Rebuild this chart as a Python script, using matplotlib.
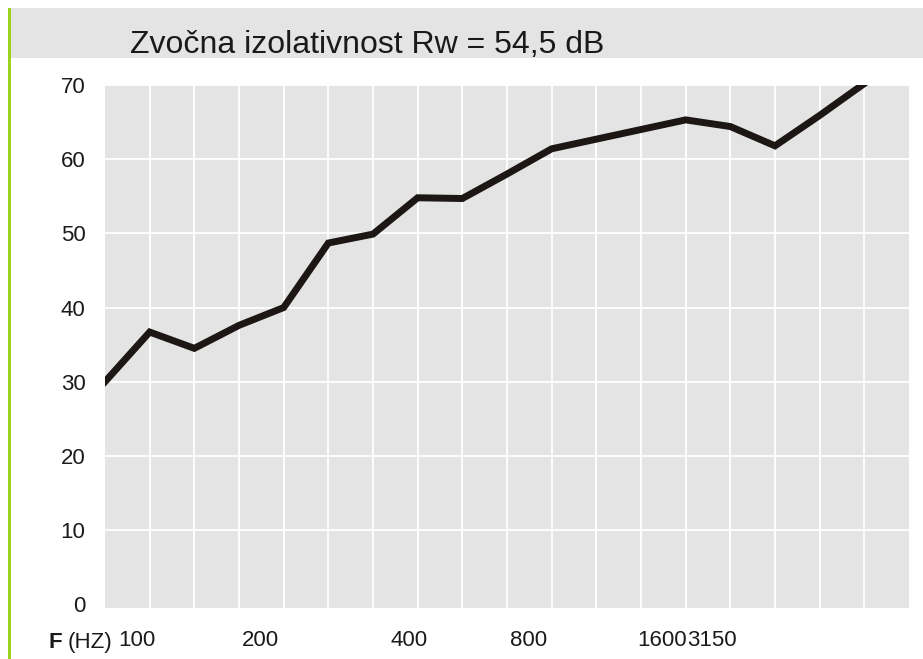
import matplotlib
matplotlib.use("Agg")
import matplotlib.pyplot as plt
from matplotlib.patches import Rectangle

# Data
band_index = list(range(18))
insulation_db = [30, 36.7, 34.5, 37.6, 40, 48.7, 49.9, 54.8, 54.7, 58.0,
                 61.4, 62.7, 64.0, 65.3, 64.4, 61.8, 65.9, 70.2]
freq_labels = ["100", "200", "400", "800", "1600", "3150"]
freq_label_pos = [0.72, 3.49, 6.8, 9.49, 12.47, 13.59]
y_ticks = [0, 10, 20, 30, 40, 50, 60, 70]
title = "Zvočna izolativnost Rw = 54,5 dB"

W, H = 923, 659
fig = plt.figure(figsize=(W / 100, H / 100), dpi=100)
fig.patch.set_facecolor("white")

# title band and green side line
fig.patches.append(Rectangle((11 / W, 1 - 58 / H), 1 - 11 / W, 50 / H,
                             transform=fig.transFigure, facecolor="#e4e4e4",
                             edgecolor="none", zorder=0))
fig.patches.append(Rectangle((8 / W, 0), 3 / W, 1 - 8 / H,
                             transform=fig.transFigure, facecolor="#9fd21c",
                             edgecolor="none", zorder=0))
fig.text(130 / W, 1 - 53 / H, title, fontsize=23, family="Liberation Sans",
         color="#1a1a1a", ha="left", va="baseline")

ax = fig.add_axes([105 / W, (H - 608) / H, (909 - 105) / W, (608 - 85) / H])
ax.set_facecolor("#e4e4e4")
ax.set_xlim(0, 18)
ax.set_ylim(-0.5, 70)
for s in ax.spines.values():
    s.set_visible(False)

ax.set_xticks(range(1, 18), minor=True)
ax.set_xticks(freq_label_pos, freq_labels)
ax.set_yticks(y_ticks)
ax.grid(False)
ax.grid(True, which="minor", axis="x", color="white", lw=1.3)
ax.grid(True, which="major", axis="y", color="white", lw=1.3)
ax.get_ygridlines()[0].set_visible(False)
ax.tick_params(axis="both", which="both", length=0)
ax.tick_params(axis="y", pad=14, labelsize=16, labelcolor="#1a1a1a")
ax.tick_params(axis="x", pad=16, labelsize=16, labelcolor="#1a1a1a")
for lab in ax.get_xticklabels() + ax.get_yticklabels():
    lab.set_family("Liberation Sans")
ax.set_axisbelow(True)

ax.plot(band_index, insulation_db, color="#1c1614", lw=5, solid_joinstyle="miter",
        clip_on=True, zorder=3)

fig.text(49 / W, 1 - 648 / H, "F", fontsize=16, fontweight="bold",
         family="Liberation Sans", color="#1a1a1a", va="baseline", ha="left")
fig.text(68 / W, 1 - 648 / H, "(HZ)", fontsize=16,
         family="Liberation Sans", color="#1a1a1a", va="baseline", ha="left")

fig.savefig("out.png", dpi=100)
